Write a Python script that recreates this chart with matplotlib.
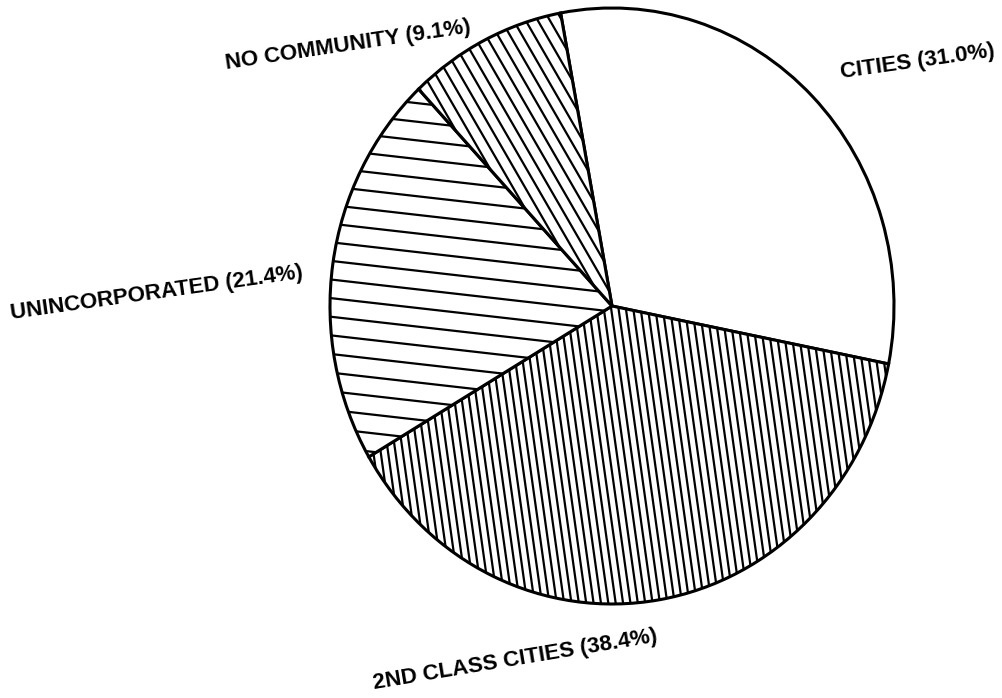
import numpy as np
import matplotlib.pyplot as plt

# DATA
labels = ["CITIES", "2ND CLASS CITIES", "UNINCORPORATED", "NO COMMUNITY"]
shares = [31.0, 38.4, 21.4, 9.1]

# hatch per slice: (line angle in degrees, spacing in px), None = plain white
hatches = [None, (98, 7.3), (-6.5, 18.5), (120, 10.5)]

# label centre (image px) and rotation
label_pos = [(918, 62, 8), (515, 660, 9.5), (157, 293, 8), (348, 45, 8.5)]

# FONT
plt.rcParams['font.family'] = ['Liberation Sans', 'DejaVu Sans']

# GEOMETRY (scanned pie is a bit taller than wide)
W, H = 1002, 698
cx, cy = 612, 306
rx, ry = 282, 298
K = ry / rx

fig = plt.figure(figsize=(W / 100, H / 100), dpi=100)
ax = fig.add_axes([0, 0, 1, 1])

wedges, _ = ax.pie(shares, startangle=100.5, counterclock=False,
                   center=(cx, (H - cy) / K), radius=rx,
                   wedgeprops=dict(facecolor='white', edgecolor='black', linewidth=2.2))
ax.set_aspect('auto')
ax.set_xlim(0, W)
ax.set_ylim(0, H / K)
ax.axis('off')


def hatch(wedge, ang, step):
    t = np.radians(ang)
    d = np.array([np.cos(t), np.sin(t)])
    n = np.array([-d[1], d[0]])
    c = np.array([cx, H - cy])
    for off in np.arange(-320, 321, step):
        p = c + off * n
        a, b = p - 330 * d, p + 330 * d
        ln, = ax.plot([a[0], b[0]], [a[1] / K, b[1] / K], color='black',
                      lw=1.6, solid_capstyle='butt', zorder=1.5)
        ln.set_clip_path(wedge)


for w, h in zip(wedges, hatches):
    if h is not None:
        hatch(w, *h)

# LABELS
for lab, v, (x, y, rot) in zip(labels, shares, label_pos):
    ax.text(x, (H - y) / K, f"{lab} ({v:.1f}%)", ha='center', va='center',
            rotation=rot, rotation_mode='anchor', fontsize=16, fontweight='bold')

fig.savefig("out.png", dpi=100, facecolor='white')
